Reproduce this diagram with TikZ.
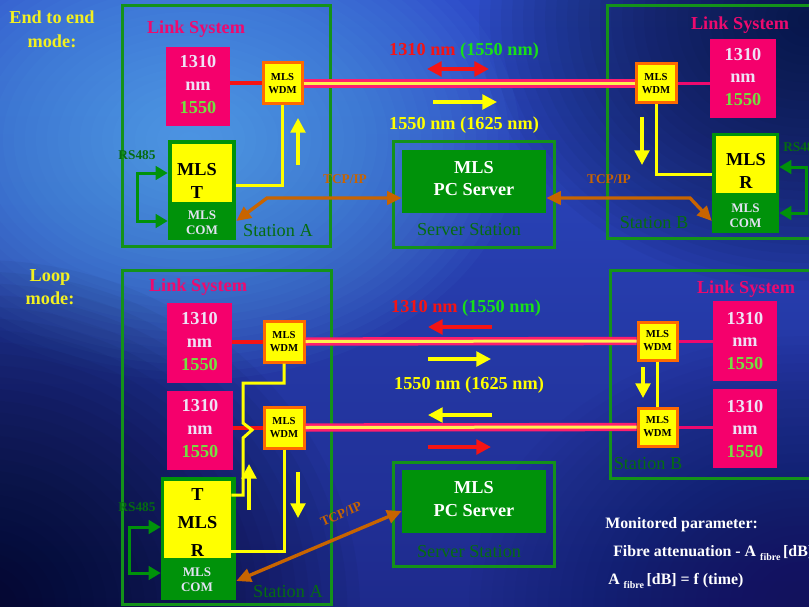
\documentclass[tikz,border=0pt]{standalone}
\usepackage{fontspec}
\setmainfont{Liberation Serif}
\usetikzlibrary{arrows.meta,fit}

\definecolor{bgtop}{HTML}{2D4CC8}
\definecolor{bgbot}{HTML}{1E2A8C}
\definecolor{bglight}{HTML}{62BCFA}
\definecolor{bgdarkA}{HTML}{050820}
\definecolor{bgdarkB}{HTML}{081030}
\definecolor{bgdarkC}{HTML}{12124A}
\definecolor{linkpink}{HTML}{EE0A6E}
\definecolor{boxpink}{HTML}{F5006C}
\definecolor{lav}{HTML}{EEE2F5}
\definecolor{lgreen}{HTML}{74E040}
\definecolor{fgreen}{HTML}{14921A}
\definecolor{bgreen}{HTML}{00920A}
\definecolor{tgreen}{HTML}{056C10}
\definecolor{orng}{HTML}{C86400}
\definecolor{wdmor}{HTML}{FF6A00}
\definecolor{yel}{HTML}{FFFF00}
\definecolor{ttyel}{HTML}{F2F020}
\definecolor{redl}{HTML}{F51414}
\definecolor{wgreen}{HTML}{18E018}
\definecolor{fpink}{HTML}{FF1E6E}
\definecolor{fyel}{HTML}{FFF050}
\definecolor{comtxt}{HTML}{E2E2F2}

\newcommand\FBig{\fontsize{13.7}{16.9}\selectfont\bfseries}
\newcommand\FReg{\fontsize{13.7}{16.9}\selectfont}
\newcommand\FWdm{\fontsize{8}{9.75}\selectfont\bfseries}
\newcommand\FCom{\fontsize{9.8}{11.25}\selectfont\bfseries}
\newcommand\FSm{\fontsize{10}{11}\selectfont\bfseries}
\newcommand\FMon{\fontsize{11.9}{14}\selectfont\bfseries}
\newcommand\FSub{\fontsize{7.5}{8}\selectfont\bfseries}

\begin{document}
\begin{tikzpicture}[x=0.75pt,y=-0.75pt,
  frame/.style={draw=fgreen, line width=2.25pt, inner sep=0pt},
  pinkbox/.style={fill=boxpink, inner sep=0pt},
  pinktxt/.style={align=center, font=\FBig, text=lav, inner sep=0pt},
  wdm/.style={fill=yel, draw=wdmor, line width=2.25pt, inner sep=0pt},
  wdmtxt/.style={align=center, font=\FWdm, text=black, inner sep=0pt},
  unit/.style={fill=bgreen, inner sep=0pt},
  unity/.style={fill=yel, inner sep=0pt},
  unittxt/.style={font=\FBig, text=black, align=center, inner sep=0pt},
  comlbl/.style={font=\FCom, text=comtxt, align=center, inner sep=0pt},
  srv/.style={fill=bgreen, inner sep=0pt},
  srvtxt/.style={align=center, font=\FBig, text=white, inner sep=0pt},
  linktitle/.style={font=\FBig, text=linkpink, inner sep=0pt},
  station/.style={font=\FReg, text=tgreen, inner sep=0pt},
  modetitle/.style={font=\FBig, text=ttyel, align=center, inner sep=0pt},
  wavelbl/.style={font=\FBig, inner sep=0pt},
  tcplbl/.style={font=\FSm, text=orng, inner sep=0pt},
  rslbl/.style={font=\FSm, text=tgreen, inner sep=0pt},
  monlbl/.style={font=\FMon, text=white, anchor=west, inner sep=0pt},
  redlink/.style={draw=redl, line width=3pt},
  pinklink/.style={draw=linkpink, line width=2.25pt},
  fiber/.style={draw=fpink, line width=2pt, double=fyel, double distance=2.25pt},
  ylink/.style={draw=yel, line width=2.25pt},
  yarrow/.style={draw=yel, line width=2.5pt, -{Triangle[width=11pt,length=11pt]}},
  rarrow/.style={draw=redl, line width=2.8pt, -{Triangle[width=11pt,length=11pt]}},
  rdarrow/.style={draw=redl, line width=2.8pt, {Triangle[width=11pt,length=11pt]}-{Triangle[width=11pt,length=11pt]}},
  gloop/.style={draw=bgreen, line width=2.25pt, {Triangle[width=10pt,length=9pt]}-{Triangle[width=10pt,length=9pt]}},
  tcp/.style={draw=orng, line width=2.5pt, {Triangle[width=10pt,length=11pt]}-{Triangle[width=10pt,length=11pt]}}
]
\useasboundingbox (0,0) rectangle (809,606);
\clip (0,0) rectangle (809,606);

% background: base gradient plus soft glows built from stacked translucent ellipses
\shade[top color=bgtop, bottom color=bgbot] (0,0) rectangle (809,606);
\foreach \k in {1,...,30}{
  \fill[bglight, fill opacity=0.043] (190,140) ellipse [x radius={330*\k/30}, y radius={240*\k/30}];
}
\foreach \k in {1,...,30}{
  \fill[bgdarkA, fill opacity=0.047] (-20,610) ellipse [x radius={380*\k/30}, y radius={350*\k/30}];
}
\foreach \k in {1,...,30}{
  \fill[bgdarkB, fill opacity=0.047] (809,20) ellipse [x radius={330*\k/30}, y radius={270*\k/30}];
}
\foreach \k in {1,...,30}{
  \fill[bgdarkC, fill opacity=0.033] (809,606) ellipse [x radius={340*\k/30}, y radius={270*\k/30}];
}

% frames
\node[frame, fit={(122,6)(330,246)}] (fA1) {};
\node[frame, fit={(607,6)(815,238)}] (fB1) {};
\node[frame, fit={(393,142)(554,247)}] (fS1) {};
\node[frame, fit={(122,270)(331,604)}] (fA2) {};
\node[frame, fit={(610,270)(815,478)}] (fB2) {};
\node[frame, fit={(393,462)(554,566)}] (fS2) {};

% mode titles
\node[modetitle] (tE) at (52,29) {End to end\\[1.1pt]mode:};
\node[modetitle] (tL) at (50,287) {Loop\\mode:};

% link system titles
\node[linktitle] (lA1) at (196,29) {Link System};
\node[linktitle] (lB1) at (740,25) {Link System};
\node[linktitle] (lA2) at (198,287) {Link System};
\node[linktitle] (lB2) at (746,289) {Link System};

% pink laser boxes
\node[pinkbox, fit={(166,47)(230,126)}] (pA1) {};
\node[pinkbox, fit={(710,39)(776,118)}] (pB1) {};
\node[pinkbox, fit={(167,303)(232,383)}] (pA2) {};
\node[pinkbox, fit={(167,391)(233,470)}] (pA3) {};
\node[pinkbox, fit={(713,301)(777,381)}] (pB2) {};
\node[pinkbox, fit={(713,389)(777,468)}] (pB3) {};
\node[pinktxt] (pA1t) at (198,84.5) {1310\\nm\\\textcolor{lgreen}{1550}};
\node[pinktxt] (pB1t) at (743,77) {1310\\nm\\\textcolor{lgreen}{1550}};
\node[pinktxt] (pA2t) at (199.5,341.5) {1310\\nm\\\textcolor{lgreen}{1550}};
\node[pinktxt] (pA3t) at (200,428.5) {1310\\nm\\\textcolor{lgreen}{1550}};
\node[pinktxt] (pB2t) at (745,341) {1310\\nm\\\textcolor{lgreen}{1550}};
\node[pinktxt] (pB3t) at (745,429) {1310\\nm\\\textcolor{lgreen}{1550}};

% WDM boxes
\node[wdm, fit={(263,63)(302,104)}] (wA1) {};
\node[wdm, fit={(636,64)(676,103)}] (wB1) {};
\node[wdm, fit={(264,321)(304,362)}] (wA2) {};
\node[wdm, fit={(264,407)(304,448)}] (wA3) {};
\node[wdm, fit={(638,322)(677,360)}] (wB2) {};
\node[wdm, fit={(638,408)(677,446)}] (wB3) {};
\node[wdmtxt] (wA1t) at (wA1.center) {MLS\\WDM};
\node[wdmtxt] (wB1t) at (wB1.center) {MLS\\WDM};
\node[wdmtxt] (wA2t) at (wA2.center) {MLS\\WDM};
\node[wdmtxt] (wA3t) at (wA3.center) {MLS\\WDM};
\node[wdmtxt] (wB2t) at (wB2.center) {MLS\\WDM};
\node[wdmtxt] (wB3t) at (wB3.center) {MLS\\WDM};

% MLS units
\node[unit, fit={(168,140)(236,240)}] (uA) {};
\node[unity, fit={(172,144)(232,202)}] (uAy) {};
\node[unittxt] (tuA) at (197,180.5) {MLS\\[0.35pt]T};
\node[comlbl] (cA) at (202,222.5) {MLS\\COM};

\node[unit, fit={(712,133)(779,233)}] (uB) {};
\node[unity, fit={(716,136)(776,193)}] (uBy) {};
\node[unittxt] (tuB) at (746,171) {MLS\\R};
\node[comlbl] (cB) at (745.5,215.5) {MLS\\COM};

\node[unit, fit={(161,477)(236,600)}] (uC) {};
\node[unity, fit={(164,481)(231,558)}] (uCy) {};
\node[unittxt] (tuC) at (197.5,523) {T\\[4.1pt]MLS\\[4.1pt]R};
\node[comlbl] (cC) at (197,579.5) {MLS\\COM};

% servers
\node[srv, fit={(402,150)(546,213)}] (sA) {};
\node[srv, fit={(402,470)(546,533)}] (sB) {};
\node[srvtxt] (sAt) at (474,178.5) {MLS\\PC Server};
\node[srvtxt] (sBt) at (474,499) {MLS\\PC Server};

% station labels
\node[station] (stA1) at (278,231) {Station A};
\node[station] (stB1) at (654,223) {Station B};
\node[station] (stS1) at (469,230) {Server Station};
\node[station] (stA2) at (288,592) {Station A};
\node[station] (stB2) at (648,464) {Station B};
\node[station] (stS2) at (469,552) {Server Station};

% wavelength labels
\node[wavelbl] (wl1) at (464,51) {\textcolor{redl}{1310 nm} \textcolor{wgreen}{(1550 nm)}};
\node[wavelbl, text=yel] (wl2) at (464,125) {1550 nm (1625 nm)};
\node[wavelbl] (wl3) at (466,308) {\textcolor{redl}{1310 nm} \textcolor{wgreen}{(1550 nm)}};
\node[wavelbl, text=yel] (wl4) at (469,385) {1550 nm (1625 nm)};

% protocol labels
\node[tcplbl] (tc1) at (345,179) {TCP/IP};
\node[tcplbl] (tc2) at (609,179) {TCP/IP};
\node[tcplbl, rotate=24] (tc3) at (341,514) {TCP/IP};
\node[rslbl] (rs1) at (137,155) {RS485};
\node[rslbl] (rs2) at (137,507) {RS485};
\node[rslbl, anchor=west] (rs3) at (783,147) {RS485};

% monitored parameter
\node[monlbl] (m1) at (605,525) {Monitored parameter:};
\node[monlbl] (m2) at (613,553) {Fibre attenuation - A \raisebox{-2.5pt}{\FSub fibre}\,[dB]};
\node[monlbl] (m3) at (608,581) {A \raisebox{-2.5pt}{\FSub fibre}\,[dB] = f (time)};

% connectors: end to end
\draw[redlink] (pA1.east |- wA1.west) -- (wA1.west);
\draw[pinklink] (wB1.east) -- (wB1.east -| pB1.west);
\draw[fiber] (wA1.east) -- (wB1.west);
\draw[ylink] (wA1.south) |- (uA.east |- 0,185);
\draw[ylink] (wB1.south) |- (uB.west |- 0,174);
\coordinate (tA) at (267,198);
\coordinate (tB) at (690,198);
\draw[tcp] (sA.west |- tA) -- (tA) -- (uA.east |- 0,221);
\draw[tcp] (sA.east |- tB) -- (tB) -- (uB.west |- 0,221);
\draw[gloop] (uA.west |- 0,173) -- (137,173) -- (137,221) -- (uA.west |- 0,221);
\draw[gloop] (uB.east |- 0,167) -- (806,167) -- (806,213) -- (uB.east |- 0,213);

% connectors: loop
\draw[redlink] (pA2.east |- wA2.west) -- (wA2.west);
\draw[redlink] (pA3.east |- wA3.west) -- (wA3.west);
\draw[pinklink] (wB2.east) -- (wB2.east -| pB2.west);
\draw[pinklink] (wB3.east) -- (wB3.east -| pB3.west);
\draw[fiber] (wA2.east) -- (wB2.west);
\draw[fiber] (wA3.east) -- (wB3.west);
\draw[ylink] (wB2.south) -- (wB3.north);
\draw[ylink] (wA2.south) -- (wA2.south |- 0,383) -- (243,383) -- (243,423) -- (252,430) -- (243,438) -- (243,495) -- (uCy.east |- 0,495);
\draw[ylink] (wA3.south) |- (uCy.east |- 0,551);
\draw[tcp] (uC.east |- 0,581) -- (sB.west |- 0,511);
\draw[gloop] (uC.west |- 0,527) -- (129,527) -- (129,573) -- (uC.west |- 0,573);

% direction arrows
\draw[rdarrow] (427,69) -- (489,69);
\draw[yarrow] (433,102) -- (497,102);
\draw[rarrow] (492,327) -- (428,327);
\draw[yarrow] (428,359) -- (491,359);
\draw[yarrow] (492,415) -- (428,415);
\draw[rarrow] (428,447) -- (491,447);
\draw[yarrow] (298,165) -- (298,118);
\draw[yarrow] (642,117) -- (642,165);
\draw[yarrow] (249,510) -- (249,464);
\draw[yarrow] (298,472) -- (298,518);
\draw[yarrow] (643,367) -- (643,398);
\end{tikzpicture}
\end{document}
